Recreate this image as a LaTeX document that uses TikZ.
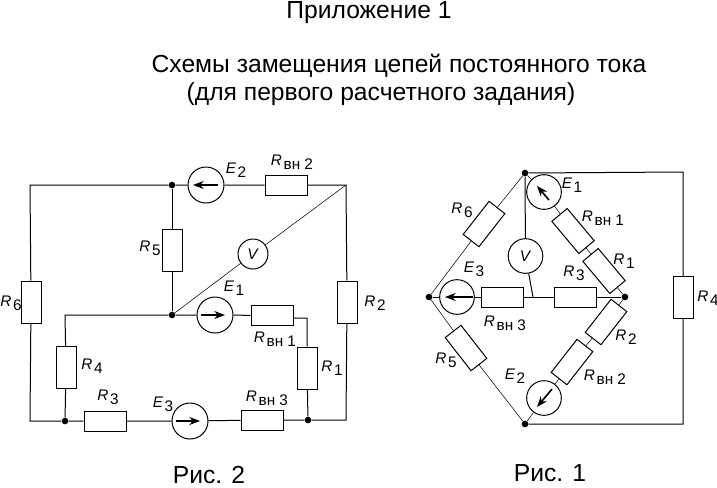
\documentclass[tikz,border=0pt]{standalone}
\usepackage{fontspec}
\setmainfont{Liberation Sans}
\usetikzlibrary{arrows.meta}
\newcommand{\elab}[2]{\textit{#1}\raisebox{-0.45ex}{\kern1.2pt #2}}

\tikzset{
  wire/.style={line width=0.75pt},
  res/.style={draw, line width=0.75pt, minimum width=31.5pt, minimum height=15pt, inner sep=0pt},
  src/.style={draw, circle, line width=0.75pt, minimum size=27pt, inner sep=0pt},
  dot/.style={circle, fill=black, inner sep=0pt, minimum size=5pt},
  lbl/.style={inner sep=0pt, font=\fontsize{11.5}{13}\selectfont},
  head/.style={inner sep=0pt, font=\fontsize{18.5}{22}\selectfont},
  emf/.style={-{Stealth[length=8pt,width=6pt]}, line width=1.2pt}
}

\begin{document}
\begin{tikzpicture}[x=0.75pt, y=-0.75pt]
  \useasboundingbox (0,0) rectangle (717,487);

  % Headings
  \node[head] (hA) at (369,13) {Приложение 1};
  \node[head] (hB) at (399,66) {Схемы замещения цепей постоянного тока};
  \node[head] (hC) at (381,94) {(для первого расчетного задания)};
  \node[head] (figA) at (209,475) {Рис. 2};
  \node[head] (figB) at (550,473) {Рис. 1};

  % Fig. 2: junctions and corners
  \node[dot] (nA) at (172,185) {};
  \node[dot] (nB) at (172,315) {};
  \node[dot] (nC) at (65,421) {};
  \node[dot] (nD) at (308,420) {};
  \coordinate (cTL) at (30,185);
  \coordinate (cBL) at (30,421);
  \coordinate (cTR) at (346,185);
  \coordinate (cBR) at (346,420);
  \coordinate (cML) at (65,315);
  \coordinate (cRa) at (293,318);
  \coordinate (cRb) at (307,318);

  % Fig. 2: elements
  \node[src] (eB) at (206,185) {};
  \node[src] (eA) at (215,315) {};
  \node[src] (eC) at (190,421) {};
  \node[src, minimum size=22.5pt] (vA) at (253,254) {\fontsize{11.5}{13}\selectfont\textit{V}};
  \node[res] (rinB) at (286,185) {};
  \node[res] (rinA) at (272,315.5) {};
  \node[res] (rinC) at (262,420) {};
  \node[res] (rC) at (105,421) {};
  \node[res, rotate=90] (rE) at (172,250) {};
  \node[res, rotate=90] (rF) at (31,302) {};
  \node[res, rotate=90] (rB) at (347,302) {};
  \node[res, rotate=90] (rD) at (66,367.5) {};
  \node[res, rotate=90] (rA) at (307,368) {};

  % Fig. 2: wires
  \draw[wire] (rF) -- (cTL) -- (nA) -- (eB) -- (rinB) -- (cTR) -- (rB);
  \draw[wire] (rF) -- (cBL) -- (nC) -- (rC) -- (eC) -- (rinC) -- (nD) -- (cBR) -- (rB);
  \draw[wire] (nA) -- (rE) -- (nB);
  \draw[wire] (nB) -- (eA) -- (rinA);
  \draw[wire] (cRa) -- (cRb) -- (rA) -- (nD);
  \draw[wire] (nB) -- (cML) -- (rD) -- (nC);
  \draw (nB) -- (vA) -- (cTR);

  % Fig. 2: emf arrows
  \draw[emf] (eB.center) ++(12,0) -- ++(-25,0);
  \draw[emf] (eA.center) ++(-14,0) -- ++(24,0);
  \draw[emf] (eC.center) ++(-14,0) -- ++(24,0);

  % Fig. 2: labels
  \node[lbl] (lEB) at (236,170) {\elab{E}{2}};
  \node[lbl] (lEA) at (234,288) {\elab{E}{1}};
  \node[lbl] (lEC) at (163,404) {\elab{E}{3}};
  \node[lbl] (lRinB) at (292,162) {\elab{R}{вн 2}};
  \node[lbl] (lRinA) at (275,339) {\elab{R}{вн 1}};
  \node[lbl] (lRinC) at (267,398) {\elab{R}{вн 3}};
  \node[lbl] (lRE) at (150,248) {\elab{R}{5}};
  \node[lbl] (lRF) at (11,303) {\elab{R}{6}};
  \node[lbl] (lRB) at (375,303) {\elab{R}{2}};
  \node[lbl] (lRA) at (332,368) {\elab{R}{1}};
  \node[lbl] (lRD) at (92,366) {\elab{R}{4}};
  \node[lbl] (lRC) at (108,397) {\elab{R}{3}};

  % Fig. 1: junctions and corners
  \node[dot] (mT) at (525,173) {};
  \node[dot] (mL) at (429,297) {};
  \node[dot] (mR) at (625,297) {};
  \node[dot] (mB) at (525,424) {};
  \coordinate (dTR) at (683,172);
  \coordinate (dBR) at (683,424);
  \coordinate (dV) at (533,297);

  % Fig. 1: elements
  \node[src, minimum size=26pt] (gA) at (544,192) {};
  \node[src, minimum size=26pt] (gB) at (544,398) {};
  \node[src, minimum size=26pt] (gC) at (457,297) {};
  \node[src, minimum size=26pt] (vB) at (525.5,256) {\fontsize{11.5}{13}\selectfont\textit{V}};
  \node[res, rotate=52] (qF) at (484,224) {};
  \node[res, rotate=-50] (qinA) at (573,231) {};
  \node[res, rotate=-50] (qA) at (604,271) {};
  \node[res, rotate=52] (qB) at (606,322) {};
  \node[res, rotate=52] (qinB) at (572,362) {};
  \node[res, rotate=-52] (qE) at (466,348) {};
  \node[res] (qinC) at (502,297) {};
  \node[res] (qC) at (575,297) {};
  \node[res, rotate=90] (qD) at (683,297.5) {};

  % Fig. 1: wires
  \draw[wire] (mT) -- (dTR) -- (qD) -- (dBR) -- (mB);
  \draw[wire] (mT) -- (vB);
  \draw[wire] (vB) -- (dV);
  \draw[wire] (mL) -- (gC) -- (qinC) -- (qC) -- (mR);
  \draw (mT) -- (qF) -- (mL);
  \draw (mL) -- (qE) -- (mB);
  \draw (mT) -- (gA) -- (qinA) -- (qA) -- (mR);
  \draw (mR) -- (qB) -- (qinB) -- (gB) -- (mB);

  % Fig. 1: emf arrows
  \draw[emf] (gA.center) ++(5,8) -- ++(-12,-14);
  \draw[emf] (gB.center) ++(8,-9) -- ++(-15,18);
  \draw[emf] (gC.center) ++(16,0) -- ++(-28,0);

  % Fig. 1: labels
  \node[lbl] (lGA) at (572,185) {\elab{E}{1}};
  \node[lbl] (lGB) at (515,376) {\elab{E}{2}};
  \node[lbl] (lGC) at (474,269) {\elab{E}{3}};
  \node[lbl] (lQinA) at (603,218) {\elab{R}{вн 1}};
  \node[lbl] (lQinB) at (605,377) {\elab{R}{вн 2}};
  \node[lbl] (lQinC) at (505,323) {\elab{R}{вн 3}};
  \node[lbl] (lQF) at (462,210) {\elab{R}{6}};
  \node[lbl] (lQA) at (624,261) {\elab{R}{1}};
  \node[lbl] (lQC) at (574,273) {\elab{R}{3}};
  \node[lbl] (lQD) at (708,298) {\elab{R}{4}};
  \node[lbl] (lQE) at (446,360) {\elab{R}{5}};
  \node[lbl] (lQB) at (626,337) {\elab{R}{2}};
\end{tikzpicture}
\end{document}
